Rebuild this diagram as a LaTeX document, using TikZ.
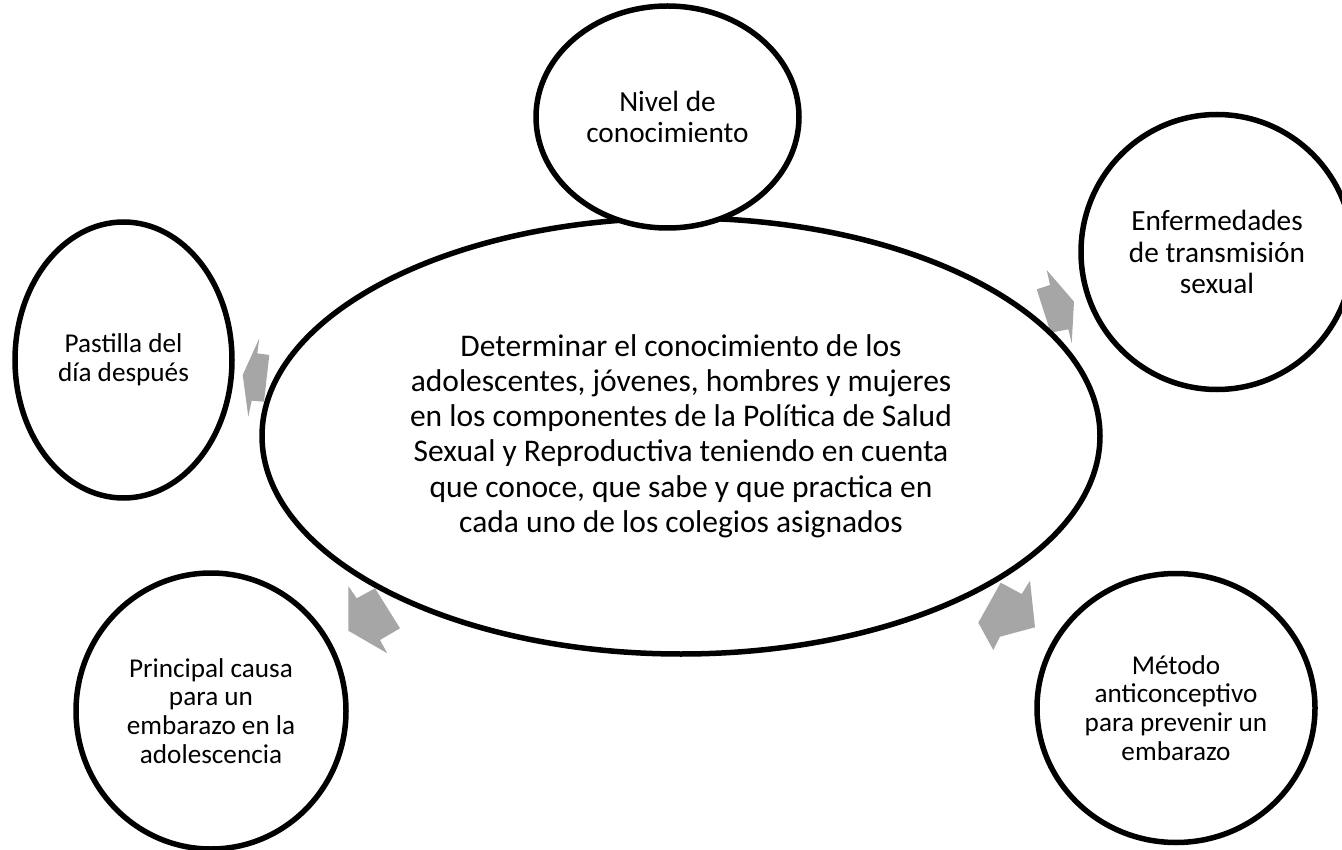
\documentclass[tikz,border=0pt]{standalone}
\usepackage{fontspec}
\setmainfont{Carlito}
\usetikzlibrary{shapes.geometric}
\definecolor{arrowgray}{RGB}{166,166,166}
\tikzset{
  bubble/.style={draw=black, line width=5.5pt, fill=white, ellipse, inner sep=0pt, align=center},
  bigtext/.style={font=\fontsize{31.5}{35.2}\selectfont},
  midtext/.style={font=\fontsize{29.3}{31.8}\selectfont},
  smalltext/.style={font=\fontsize{27.2}{28.7}\selectfont},
  blockarrow/.style={fill=arrowgray, draw=none}
}
\begin{document}
\begin{tikzpicture}[x=1pt,y=-1pt]
\useasboundingbox (0,0) rectangle (1342,850);
\clip (0,0) rectangle (1342,850);
% gray block arrows
\fill[blockarrow] (1046.7,270) -- (1074,301.7) -- (1071.7,343.3) -- (1068.3,329.3) -- (1050.7,332.7) -- (1036.7,289.3) -- (1050,285) -- cycle;
\fill[blockarrow] (259.3,338.3) -- (257.3,353.3) -- (269.3,355) -- (264,401.7) -- (251.7,400.7) -- (248.3,416.7) -- (242.7,375) -- cycle;
\fill[blockarrow] (348.3,586) -- (356.7,598.3) -- (375,588.3) -- (400,628.3) -- (380,640) -- (387.3,653.3) -- (348.3,630.7) -- cycle;
\fill[blockarrow] (1000.7,582.7) -- (1021.7,594) -- (1030,580.7) -- (1035,627.3) -- (1000,636.7) -- (993.3,650) -- (978.3,622.7) -- cycle;
% central
\node[bubble, bigtext, minimum width=838pt, minimum height=436pt] (center) at (681,436)
  {Determinar el conocimiento de los\\adolescentes, jóvenes, hombres y mujeres\\en los componentes de la Política de Salud\\Sexual y Reproductiva teniendo en cuenta\\que conoce, que sabe y que practica en\\cada uno de los colegios asignados};
% satellites
\node[bubble, midtext, minimum width=263pt, minimum height=222pt] (nivel) at (667.5,117)
  {Nivel de\\conocimiento};
\node[bubble, midtext, minimum width=272pt, minimum height=275pt] (ets) at (1217,252)
  {Enfermedades\\de transmisión\\sexual};
\node[bubble, smalltext, minimum width=217pt, minimum height=276pt] (pastilla) at (123.5,360)
  {Pastilla del\\día después};
\node[bubble, smalltext, minimum width=270pt, minimum height=276pt] (causa) at (211,711)
  {Principal causa\\para un\\embarazo en la\\adolescencia};
\node[bubble, smalltext, minimum width=278pt, minimum height=269pt] (metodo) at (1176,708)
  {Método\\anticonceptivo\\para prevenir un\\embarazo};
\end{tikzpicture}
\end{document}
